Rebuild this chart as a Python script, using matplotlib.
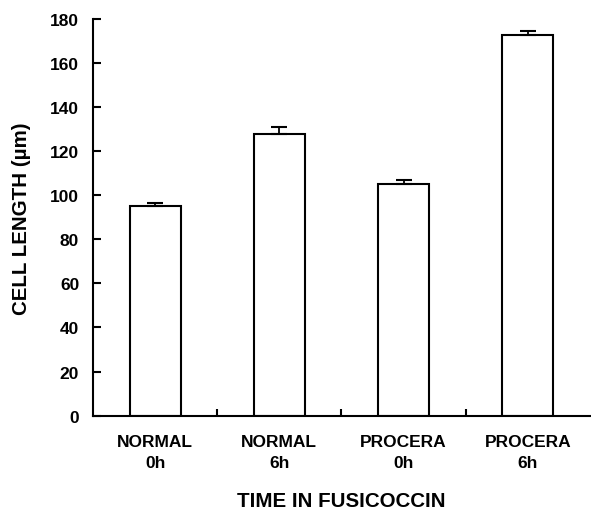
import matplotlib
matplotlib.use("Agg")
import matplotlib.pyplot as plt
import numpy as np

categories = ["NORMAL\n0h", "NORMAL\n6h", "PROCERA\n0h", "PROCERA\n6h"]
values = [95.0, 127.8, 105.3, 172.6]
errors = [1.4, 3.0, 1.4, 2.0]
yticks = [0, 20, 40, 60, 80, 100, 120, 140, 160, 180]

plt.rcParams['font.family'] = ['Liberation Sans', 'DejaVu Sans']
plt.rcParams['font.weight'] = 'bold'

fig = plt.figure(figsize=(5.91, 5.10), dpi=100)
ax = fig.add_axes([0.1574, 0.183, 0.998 - 0.1574, 0.961 - 0.183])

x = np.arange(len(categories))
ax.bar(x, values, width=0.41, color='white', edgecolor='black', linewidth=1.5, zorder=2)
ax.errorbar(x, values, yerr=[np.zeros(len(errors)), errors], fmt='none', ecolor='black',
            elinewidth=1.3, capsize=5.5, capthick=1.5, zorder=3)

ax.set_xlim(-0.5, 3.5)
ax.set_ylim(0, 180)
ax.set_yticks(yticks)
ax.set_yticklabels([str(t) for t in yticks], fontsize=12.5, fontweight='bold')
ax.tick_params(axis='y', direction='in', length=6, width=1.5, pad=10)

ax.set_xticks([0.5, 1.5, 2.5])
ax.set_xticklabels([])
ax.tick_params(axis='x', which='major', direction='in', length=5, width=1.5)
ax.set_xticks(x, minor=True)
ax.set_xticklabels(categories, minor=True, fontsize=12.5, fontweight='bold', linespacing=1.55)
ax.tick_params(axis='x', which='minor', length=0, pad=13)

for s in ['top', 'right']:
    ax.spines[s].set_visible(False)
for s in ['left', 'bottom']:
    ax.spines[s].set_linewidth(1.5)

ax.set_ylabel("CELL LENGTH (µm)", fontsize=14.8, fontweight='bold', labelpad=14)
ax.set_xlabel("TIME IN FUSICOCCIN", fontsize=14.8, fontweight='bold', labelpad=15)

fig.savefig("out.png", dpi=100)
